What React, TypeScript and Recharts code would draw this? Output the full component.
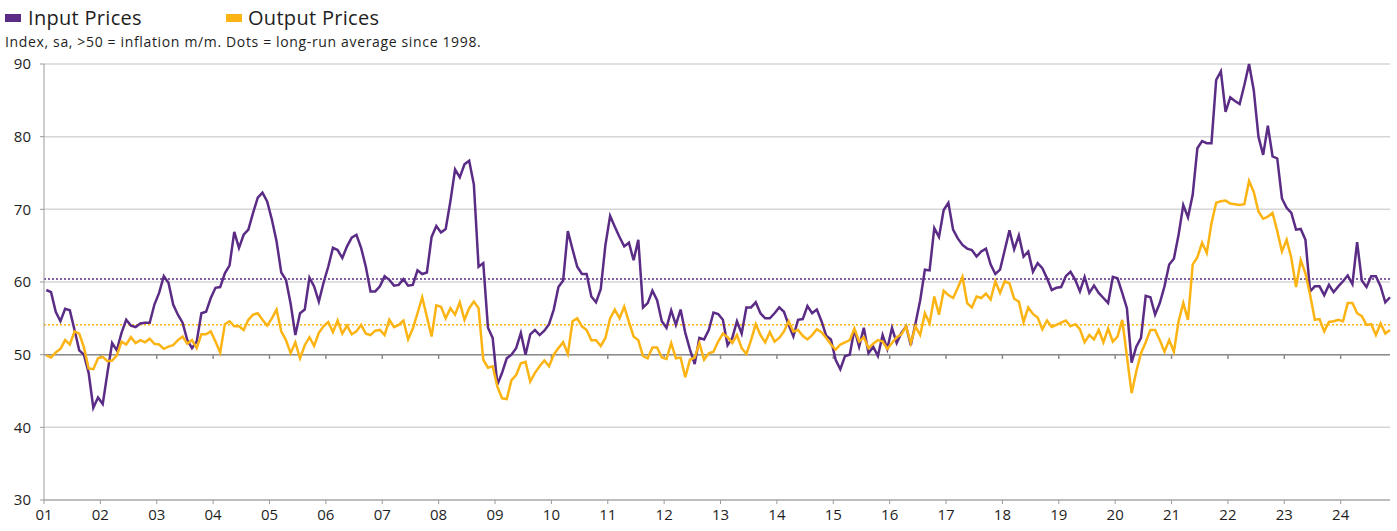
import { CartesianGrid, Line, LineChart, ReferenceLine, XAxis, YAxis } from "recharts"

// two-digit year labels on the x axis (one per January)
const yearLabels = [
  "01", "02", "03", "04", "05", "06", "07", "08", "09", "10", "11", "12",
  "13", "14", "15", "16", "17", "18", "19", "20", "21", "22", "23", "24",
]

// Input prices, monthly Jan 2001 - Nov 2024 (one row per year)
const inputPrices = [
  58.9, 58.6, 55.9, 54.6, 56.3, 56.1, 53.4, 50.6, 50.0, 47.5, 42.7, 44.1,
  43.2, 47.5, 51.6, 50.6, 53.0, 54.8, 54.0, 53.8, 54.3, 54.4, 54.4, 56.9,
  58.5, 60.8, 59.9, 56.9, 55.5, 54.4, 52.0, 50.9, 51.8, 55.7, 55.9, 57.8,
  59.2, 59.3, 61.2, 62.3, 66.9, 64.7, 66.5, 67.2, 69.5, 71.6, 72.3, 71.1,
  68.6, 65.6, 61.3, 60.3, 57.0, 52.7, 55.7, 56.2, 60.6, 59.4, 57.3, 59.9,
  62.1, 64.7, 64.4, 63.3, 64.9, 66.1, 66.5, 64.7, 62.1, 58.7, 58.7, 59.4,
  60.8, 60.3, 59.5, 59.6, 60.4, 59.5, 59.6, 61.6, 61.1, 61.3, 66.2, 67.7,
  66.8, 67.3, 71.1, 75.5, 74.4, 76.2, 76.7, 73.4, 62.1, 62.6, 53.7, 52.3,
  45.9, 47.5, 49.5, 50.0, 50.9, 53.0, 50.0, 52.8, 53.4, 52.7, 53.3, 54.2,
  56.2, 59.3, 60.2, 67.0, 64.5, 62.1, 61.1, 61.1, 58.0, 57.2, 59.0, 65.1,
  69.1, 67.6, 66.2, 64.9, 65.4, 63.0, 65.8, 56.5, 57.1, 58.8, 57.5, 54.6,
  53.7, 56.1, 54.1, 56.2, 53.0, 50.7, 48.7, 52.3, 52.1, 53.4, 55.8, 55.6,
  54.8, 51.3, 52.3, 54.6, 52.9, 56.5, 56.5, 57.2, 55.7, 55.0, 55.0, 55.7,
  56.5, 55.9, 54.1, 52.5, 54.8, 54.9, 56.7, 55.7, 56.2, 54.6, 52.6, 52.1,
  49.3, 48.0, 49.8, 50.0, 53.5, 51.1, 53.7, 50.2, 51.1, 49.8, 52.7, 50.8,
  53.7, 51.6, 53.0, 53.9, 51.3, 54.3, 57.5, 61.7, 61.6, 67.4, 66.2, 69.9,
  70.9, 67.2, 66.0, 65.1, 64.6, 64.4, 63.5, 64.2, 64.6, 62.4, 61.1, 61.7,
  64.4, 67.1, 64.5, 66.4, 63.5, 64.2, 61.4, 62.6, 61.9, 60.5, 58.9, 59.2,
  59.3, 60.8, 61.4, 60.3, 58.7, 60.7, 58.5, 59.5, 58.5, 57.8, 57.1, 60.7,
  60.5, 58.5, 56.4, 48.9, 51.1, 52.3, 58.1, 57.9, 55.5, 57.1, 59.4, 62.4,
  63.2, 66.5, 70.6, 68.9, 72.0, 78.4, 79.4, 79.1, 79.1, 87.8, 89.0, 83.4,
  85.4, 84.9, 84.5, 87.1, 90.0, 86.4, 80.0, 77.5, 81.5, 77.3, 77.0, 71.5,
  70.2, 69.5, 67.2, 67.3, 65.8, 58.7, 59.4, 59.4, 58.2, 59.6, 58.6, 59.4,
  60.1, 60.9, 59.7, 65.5, 60.2, 59.3, 60.8, 60.8, 59.4, 57.2, 57.9,
]

// Output prices, same months
const outputPrices = [
  49.9, 49.6, 50.3, 50.8, 52.0, 51.4, 53.2, 52.9, 51.0, 48.1, 48.0, 49.5,
  49.7, 49.1, 49.2, 49.9, 51.8, 51.4, 52.4, 51.6, 52.0, 51.7, 52.2, 51.5,
  51.4, 50.8, 51.1, 51.3, 52.0, 52.5, 51.5, 52.0, 50.9, 52.8, 52.8, 53.2,
  51.8, 50.3, 54.2, 54.6, 53.9, 53.9, 53.4, 54.8, 55.5, 55.7, 54.8, 54.0,
  55.0, 56.2, 53.2, 52.0, 50.2, 51.7, 49.5, 51.3, 52.4, 51.2, 53.0, 53.9,
  54.5, 53.1, 54.7, 52.9, 54.0, 52.8, 53.2, 54.1, 52.9, 52.7, 53.3, 53.4,
  52.7, 54.8, 53.8, 54.1, 54.7, 52.1, 53.6, 55.7, 57.9, 55.2, 52.5, 56.8,
  56.6, 55.0, 56.4, 55.5, 57.2, 54.8, 56.4, 57.3, 56.4, 49.3, 48.2, 48.4,
  45.6, 44.0, 43.9, 46.5, 47.2, 48.8, 49.0, 46.3, 47.5, 48.4, 49.2, 48.4,
  50.0, 50.9, 51.7, 50.1, 54.6, 55.0, 53.9, 53.4, 52.0, 52.0, 51.2, 52.3,
  55.0, 56.2, 55.0, 56.6, 54.5, 52.5, 52.0, 49.8, 49.5, 51.0, 51.0, 49.6,
  49.4, 51.6, 49.5, 49.6, 46.9, 49.3, 49.6, 51.6, 49.3, 50.2, 50.4, 51.8,
  52.9, 52.4, 51.6, 52.7, 50.9, 50.1, 52.0, 54.2, 52.7, 51.7, 53.1, 51.8,
  52.3, 53.2, 54.6, 53.2, 53.4, 52.6, 52.1, 52.7, 53.5, 53.1, 52.3, 51.4,
  50.7, 51.4, 51.7, 52.0, 53.6, 51.8, 52.4, 50.9, 51.5, 52.0, 51.8, 50.8,
  51.6, 52.4, 52.8, 53.9, 51.6, 53.9, 52.7, 55.7, 54.3, 58.0, 55.5, 58.8,
  58.2, 57.8, 59.2, 60.7, 57.1, 56.5, 58.0, 57.8, 58.4, 57.6, 60.1, 58.5,
  60.1, 59.8, 57.7, 57.3, 54.5, 56.5, 55.6, 55.1, 53.5, 54.7, 53.8, 54.1,
  54.4, 54.7, 53.9, 54.2, 53.5, 51.7, 52.7, 52.1, 53.4, 51.7, 53.6, 51.8,
  52.5, 54.8, 49.8, 44.7, 47.7, 50.2, 51.7, 53.4, 53.4, 52.0, 50.4, 52.0,
  50.4, 54.6, 57.1, 54.8, 62.4, 63.4, 65.4, 64.0, 68.1, 70.9, 71.1, 71.2,
  70.8, 70.7, 70.6, 70.7, 73.9, 72.4, 69.7, 68.7, 69.0, 69.5, 67.0, 64.2,
  65.8, 63.3, 59.3, 63.0, 61.2, 58.2, 54.8, 54.9, 53.2, 54.5, 54.6, 54.8,
  54.6, 57.1, 57.1, 55.7, 55.3, 54.1, 54.2, 52.7, 54.3, 52.9, 53.4,
]

// long-run averages since 1998 (dotted lines)
const inputAverage = 60.4
const outputAverage = 54.1

const yTicks = [30, 40, 50, 60, 70, 80, 90]

const PURPLE = "#5b2c86"
const ORANGE = "#fcb414"
const AXIS = "#9b9b9b"
const FONT = "'Open Sans', Lato, sans-serif"

// months plotted mid-month: Jan 2001 = 0.5
const data = inputPrices.map((v, i) => ({ t: i + 0.5, input: v, output: outputPrices[i] }))
const xTicks = yearLabels.map((_, i) => i * 12)

export default function App() {
  return (
    <div style={{ position: "absolute", left: 0, top: 0, width: 1397, height: 531, background: "#fff", fontFamily: FONT, color: "#1e1e1e" }}>
      <div style={{ position: "absolute", left: 5, top: 5, display: "flex", alignItems: "center", fontSize: 20, lineHeight: "26px", letterSpacing: 0.3 }}>
        <span style={{ display: "inline-block", width: 16, height: 8, background: PURPLE, marginRight: 7 }} />
        <span style={{ width: 198 }}>Input Prices</span>
        <span style={{ display: "inline-block", width: 16, height: 8, background: ORANGE, marginRight: 6 }} />
        <span>Output Prices</span>
      </div>
      <div style={{ position: "absolute", left: 5, top: 33, fontSize: 14, lineHeight: "18px", letterSpacing: 0.65 }}>
        Index, sa, &gt;50 = inflation m/m. Dots = long-run average since 1998.
      </div>
      <LineChart
        width={1397}
        height={531}
        data={data}
        margin={{ top: 64, right: 7, left: 0, bottom: 0 }}
        style={{ position: "absolute", left: 0, top: 0 }}
      >
        <CartesianGrid vertical={false} stroke="#d6d6d6" strokeWidth={1.5} />
        <XAxis
          type="number"
          dataKey="t"
          domain={[0, 286.5]}
          ticks={xTicks}
          interval={0}
          tickFormatter={(v: number) => yearLabels[Math.round(v / 12)]}
          height={31}
          stroke={AXIS}
          tickSize={4}
          tickMargin={5}
          tick={{ fontSize: 15, fill: "#1e1e1e", fontFamily: FONT }}
        />
        <YAxis
          domain={[30, 90]}
          ticks={yTicks}
          interval={0}
          width={44}
          stroke={AXIS}
          tickSize={4}
          tickMargin={9}
          tick={{ fontSize: 15, fill: "#1e1e1e", fontFamily: FONT }}
        />
        <ReferenceLine y={50} stroke="#8c8c8c" strokeWidth={1.5} />
        {xTicks.slice(1).map((t) => (
          <ReferenceLine key={t} segment={[{ x: t, y: 50 }, { x: t, y: 49.4 }]} stroke="#8c8c8c" strokeWidth={1.5} />
        ))}
        <ReferenceLine y={inputAverage} stroke={PURPLE} strokeDasharray="2 2" strokeWidth={1.5} />
        <ReferenceLine y={outputAverage} stroke={ORANGE} strokeDasharray="2 2" strokeWidth={1.5} />
        <Line type="linear" dataKey="input" stroke={PURPLE} strokeWidth={2.5} dot={false} isAnimationActive={false} />
        <Line type="linear" dataKey="output" stroke={ORANGE} strokeWidth={2.5} dot={false} isAnimationActive={false} />
      </LineChart>
    </div>
  )
}
